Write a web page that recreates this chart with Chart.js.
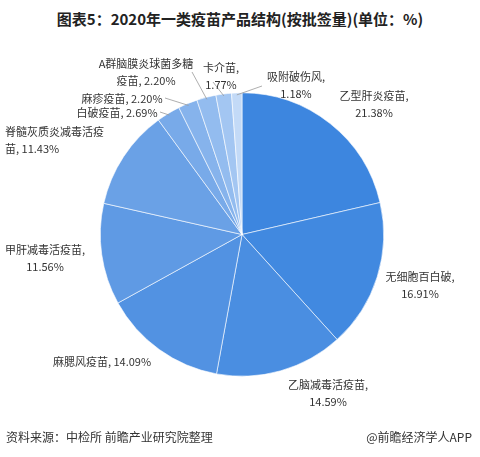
<!DOCTYPE html>
<html>
<head>
<meta charset="utf-8">
<script src="https://cdn.jsdelivr.net/npm/chart.js@4.4.0/dist/chart.umd.min.js"></script>
<style>
body{margin:0;background:#fff;font-family:"Noto Sans CJK SC",sans-serif;}
#wrap{position:relative;width:480px;height:457px;}
#title{position:absolute;top:8px;width:480px;text-align:center;font-weight:bold;font-size:15px;color:#222;}
#src{position:absolute;left:6px;top:428px;font-size:12px;color:#333;}
#app{position:absolute;right:8px;top:428px;font-size:12px;color:#333;}
canvas{position:absolute;left:0;top:0;}
</style>
</head>
<body>
<div id="wrap">
<div id="title">图表5：2020年一类疫苗产品结构(按批签量)(单位：%)</div>
<canvas id="c" width="480" height="457"></canvas>
<div id="src">资料来源：中检所 前瞻产业研究院整理</div>
<div id="app">@前瞻经济学人APP</div>
</div>
<script>
var labels = ['乙型肝炎疫苗','无细胞百白破','乙脑减毒活疫苗','麻腮风疫苗','甲肝减毒活疫苗','脊髓灰质炎减毒活疫苗','白破疫苗','麻疹疫苗','A群脑膜炎球菌多糖疫苗','卡介苗','吸附破伤风'];
var values = [21.38,16.91,14.59,14.09,11.56,11.43,2.69,2.20,2.20,1.77,1.18];
var colors = ['#3d86df','#4189e0','#4a8ee1','#5292e2','#5f9ae4','#6aa1e6','#78aae9','#86b3ec','#93bcef','#a3c6f2','#c3daf7'];
// text lines, anchor x,y, align, leader line (for small slices)
var labelText = [
  ['乙型肝炎疫苗,','21.38%'],['无细胞百白破,','16.91%'],['乙脑减毒活疫苗,','14.59%'],['麻腮风疫苗, 14.09%'],
  ['甲肝减毒活疫苗,','11.56%'],['脊髓灰质炎减毒活疫','苗, 11.43%'],['白破疫苗, 2.69%'],['麻疹疫苗, 2.20%'],
  ['A群脑膜炎球菌多糖','疫苗, 2.20%'],['卡介苗,','1.77%'],['吸附破伤风,','1.18%']];
var labelPos = [[374,96,'center'],[420,277,'center'],[328,385,'center'],[102,362,'center'],[45,250,'center'],
  [5,132,'left'],[117,113,'center'],[122,99,'center'],[146,64,'center'],[221,68,'center'],[296,77,'center']];
var leaders = {6:[160,112],7:[165,98],8:[192,72],9:[213,82],10:[262,86]};

var labelPlugin = {
  id: 'labelPlugin',
  afterDraw: function(chart){
    var ctx = chart.ctx;
    var meta = chart.getDatasetMeta(0);
    ctx.save();
    ctx.font = '11px "Noto Sans CJK SC"';
    ctx.fillStyle = '#333';
    ctx.textBaseline = 'middle';
    meta.data.forEach(function(arc, i){
      if (leaders[i]) {
        var a = (arc.startAngle + arc.endAngle) / 2;
        var ex = arc.x + Math.cos(a) * (arc.outerRadius - 2);
        var ey = arc.y + Math.sin(a) * (arc.outerRadius - 2);
        ctx.strokeStyle = '#999';
        ctx.lineWidth = 0.8;
        ctx.beginPath();
        ctx.moveTo(ex, ey);
        ctx.lineTo(leaders[i][0], leaders[i][1]);
        ctx.stroke();
      }
      var p = labelPos[i];
      ctx.textAlign = p[2];
      labelText[i].forEach(function(t, j){ ctx.fillText(t, p[0], p[1] + j * 17); });
    });
    ctx.restore();
  }
};

new Chart(document.getElementById('c'), {
  type: 'pie',
  data: { labels: labels, datasets: [{ data: values, backgroundColor: colors, borderColor: '#fff', borderWidth: 0.6 }] },
  options: {
    responsive: false,
    animation: false,
    layout: { padding: { top: 92, bottom: 80, left: 100, right: 96 } },
    plugins: { legend: { display: false }, tooltip: { enabled: false } }
  },
  plugins: [labelPlugin]
});
</script>
</body>
</html>
